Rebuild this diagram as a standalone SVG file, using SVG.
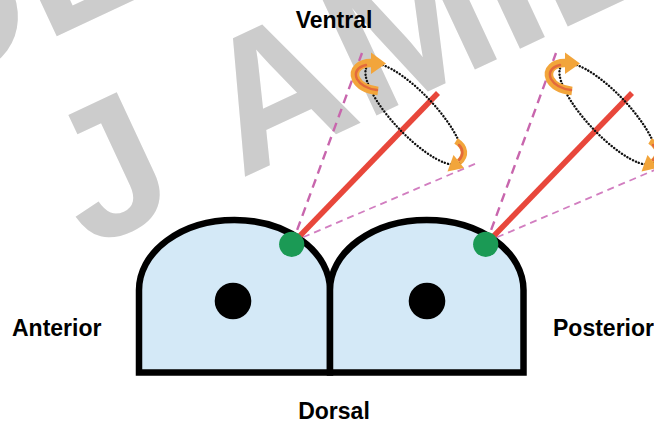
<svg xmlns="http://www.w3.org/2000/svg" width="654" height="425" viewBox="0 0 654 425">
  <style>
    .wm { font-family: "Liberation Sans", Arial, sans-serif; font-weight: bold; font-size: 190px; fill: #cccccc; }
    .label { font-family: "Liberation Sans", Arial, sans-serif; font-weight: bold; font-size: 23px; fill: #000000; }
    .cell { fill: #d4e9f7; stroke: #000000; stroke-width: 6.5; stroke-linejoin: miter; }
    .nucleus { fill: #000000; }
    .basal { fill: #1b9a55; }
    .cilium { stroke: #e8473b; stroke-width: 5.5; fill: none; }
    .cone-steep { stroke: #c866ad; stroke-width: 2.4; stroke-dasharray: 9 6; fill: none; }
    .cone-flat { stroke: #d27ec0; stroke-width: 1.8; stroke-dasharray: 7 5; fill: none; }
    .orbit { stroke: #111111; stroke-width: 2.4; stroke-linecap: round; stroke-dasharray: 0.1 3.1; fill: none; }
    .arrow-body { stroke: #f2a53b; stroke-width: 8.5; fill: none; stroke-linecap: butt; }
    .arrow-body-s { stroke: #f2a53b; stroke-width: 6.5; fill: none; stroke-linecap: butt; }
    .arrow-core { stroke: #e36a3c; stroke-width: 2.5; fill: none; stroke-linecap: round; }
    .arrow-head { fill: #f2a53b; }
  </style>

  <!-- background mark lettering -->
  <g id="watermark">
    <text class="wm" transform="translate(-79,99.5) rotate(-25)">DE</text>
    <text class="wm" transform="translate(88,250) rotate(-25)" word-spacing="17">J AMIE</text>
  </g>

  <!-- epithelial cells -->
  <g id="cell-anterior">
    <path class="cell" d="M139,372.5 L139,290 A95.5,70 0 0 1 330,290 L330,372.5 Z"/>
    <circle class="nucleus" cx="233" cy="301" r="18.3"/>
  </g>
  <g id="cell-posterior">
    <path class="cell" d="M330,372.5 L330,290 A96.75,70 0 0 1 523.5,290 L523.5,372.5 Z"/>
    <circle class="nucleus" cx="427" cy="301" r="18.3"/>
  </g>

  <!-- cilium with its rotation cone, drawn once and reused -->
  <defs>
    <g id="cilium-unit">
      <line class="cone-steep" x1="292" y1="244" x2="362" y2="53"/>
      <line class="cone-flat" x1="292" y1="242" x2="477" y2="163"/>
      <line class="cilium" x1="292" y1="244" x2="438" y2="93"/>
      <ellipse class="orbit" cx="414" cy="114" rx="67" ry="21" transform="rotate(46.5 414 114)"/>
      <!-- upper curved arrow -->
      <path class="arrow-body" d="M373,63 C360,62 352,70 356,79 C360,87 370,90 378,91"/>
      <path class="arrow-core" d="M366,65 C357,67 354,73 357,79 C361,86 369,89 377,90"/>
      <polygon class="arrow-head" points="371,52.5 386,63.5 371,74"/>
      <!-- lower curved arrow -->
      <path class="arrow-body-s" d="M456,141 C466,147 466,156 459,162"/>
      <path class="arrow-core" d="M459,145 C464,150 463,156 459,160" stroke-width="1.8"/>
      <polygon class="arrow-head" points="464,168 453.5,155 447.5,171.5"/>
    </g>
  </defs>

  <g id="connectors">
    <use href="#cilium-unit"/>
    <use href="#cilium-unit" transform="translate(194,0)"/>
  </g>

  <!-- basal bodies -->
  <g id="basal-anterior"><circle class="basal" cx="291.7" cy="244.3" r="12.6"/></g>
  <g id="basal-posterior"><circle class="basal" cx="485.7" cy="244.3" r="12.6"/></g>

  <!-- axis labels -->
  <g id="label-ventral"><text class="label" x="334" y="28" text-anchor="middle">Ventral</text></g>
  <g id="label-anterior"><text class="label" x="12" y="336">Anterior</text></g>
  <g id="label-posterior"><text class="label" x="553" y="336">Posterior</text></g>
  <g id="label-dorsal"><text class="label" x="334" y="419" text-anchor="middle">Dorsal</text></g>
</svg>
